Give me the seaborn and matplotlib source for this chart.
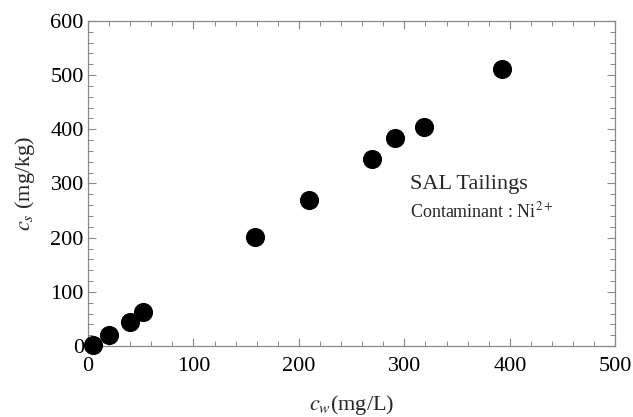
import matplotlib
matplotlib.use("Agg")
import matplotlib.pyplot as plt
import seaborn as sns
import pandas as pd
from matplotlib.ticker import MultipleLocator

cw = [5, 20, 40, 52, 158, 210, 269, 291, 319, 393]
cs = [2, 20, 44, 63, 201, 269, 345, 384, 404, 511]

df = pd.DataFrame({"cw": cw, "cs": cs})

sns.set_style("white")
plt.rcParams["font.family"] = ["Liberation Serif", "DejaVu Serif"]
plt.rcParams["mathtext.fontset"] = "stix"

fig = plt.figure(figsize=(6.33, 4.17), dpi=100)
ax = fig.add_axes([0.139, 0.170, 0.833, 0.780])

sns.scatterplot(data=df, x="cw", y="cs", ax=ax, s=190, color="black",
                edgecolor="black", linewidth=0, zorder=3, clip_on=False)

ax.set_xlim(0, 500)
ax.set_ylim(0, 600)
ax.xaxis.set_major_locator(MultipleLocator(100))
ax.xaxis.set_minor_locator(MultipleLocator(20))
ax.yaxis.set_major_locator(MultipleLocator(100))
ax.yaxis.set_minor_locator(MultipleLocator(20))
ax.tick_params(which="both", direction="in", top=True, right=True,
               bottom=True, left=True, color="#888888", labelsize=16,
               labelcolor="black")
ax.tick_params(axis="x", which="major", pad=8)
ax.tick_params(axis="y", which="major", pad=3)
ax.tick_params(which="major", length=6, width=0.8)
ax.tick_params(which="minor", length=3.5, width=0.7)
for sp in ax.spines.values():
    sp.set_color("#888888")
    sp.set_linewidth(0.9)

ax.set_xlabel(r"$c_w$(mg/L)", fontsize=16, labelpad=12)
ax.set_ylabel(r"$c_s$ (mg/kg)", fontsize=16, labelpad=10)

ax.text(305, 290, "SAL Tailings", fontsize=16, ha="left", va="baseline")
ax.text(305, 238, r"Contaminant : Ni$^{2+}$", fontsize=13, ha="left", va="baseline")

fig.savefig("out.png", dpi=100)
